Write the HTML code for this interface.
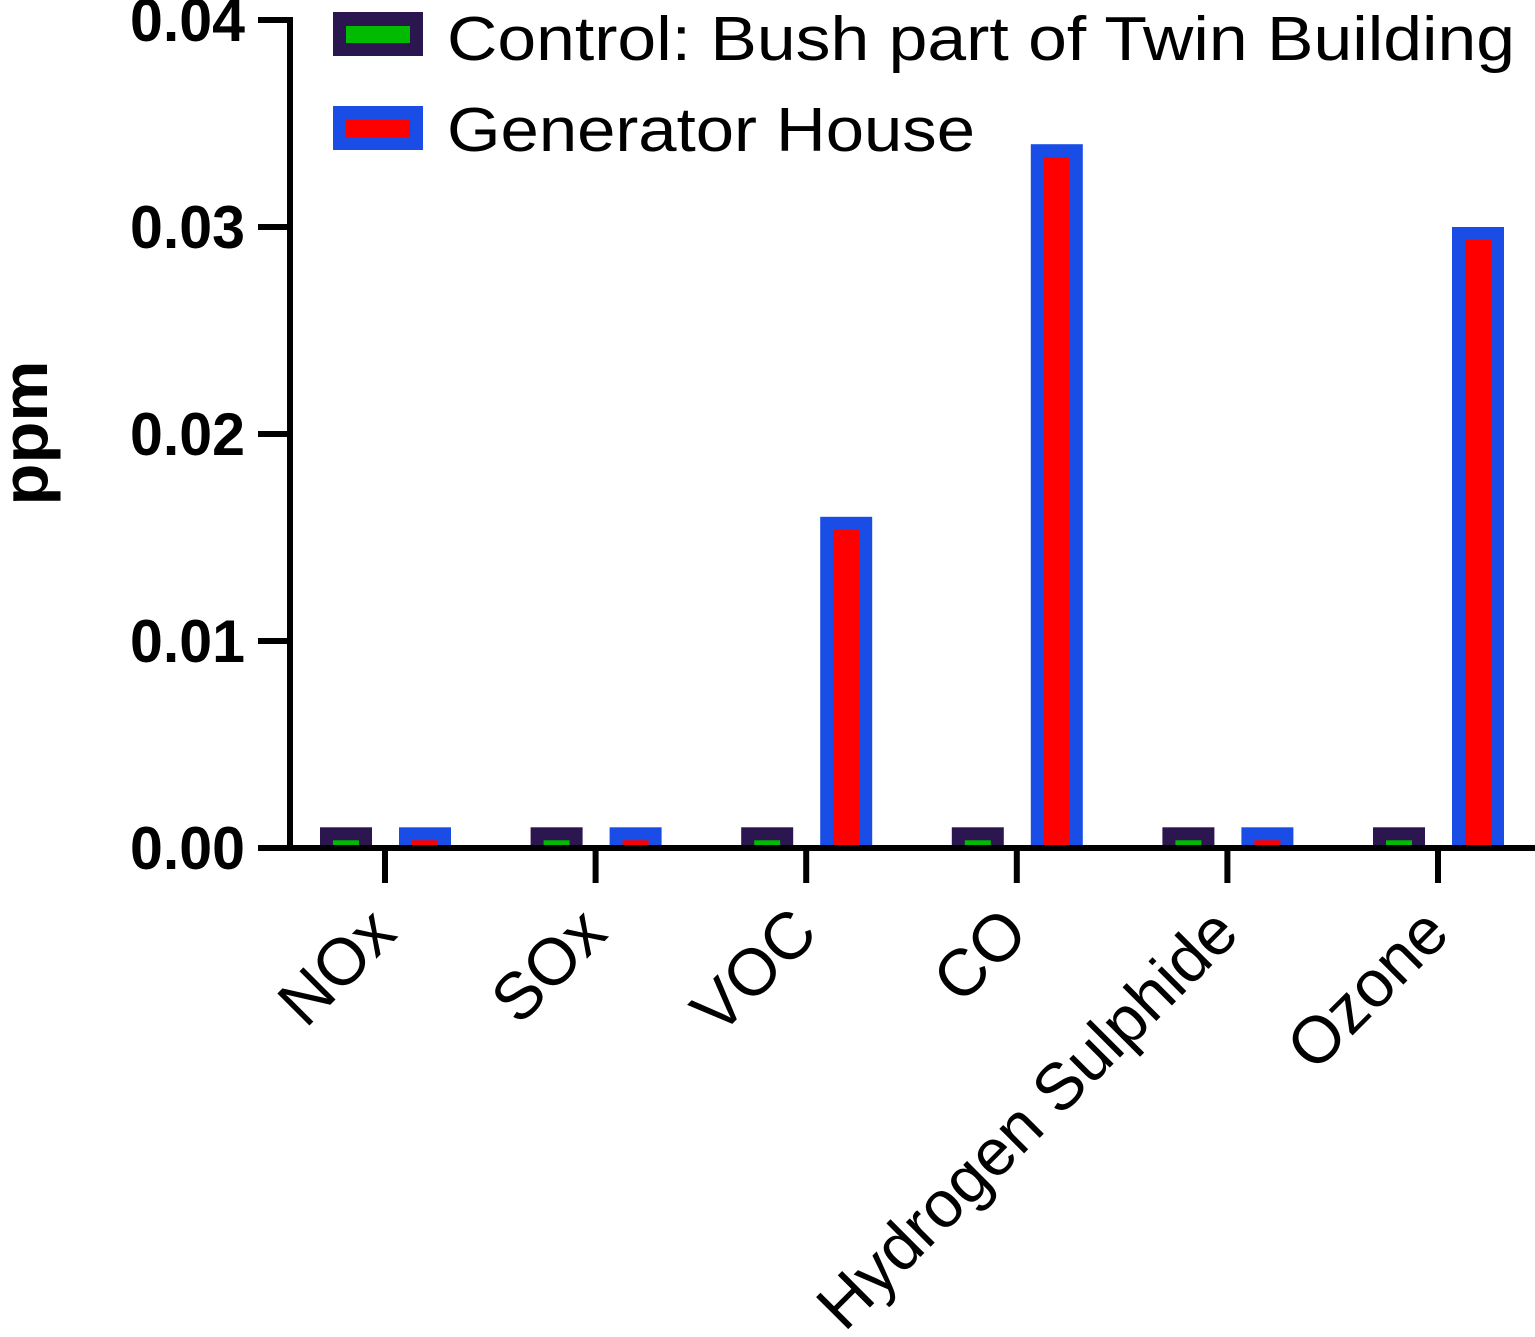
<!DOCTYPE html>
<html><head><meta charset="utf-8"><style>body{margin:0;background:#fff}svg{display:block}</style></head>
<body>
<svg id="chart" width="1535" height="1337" viewBox="0 0 1535 1337" xmlns="http://www.w3.org/2000/svg" font-family="Liberation Sans, sans-serif">
<g id="bars"></g>
<g id="axes"></g>
<g>
 <g>
  <rect x="333" y="12" width="90" height="44" fill="#2b1650"/><rect x="346" y="26" width="64" height="17" fill="#00bb00"/>
  <text x="447" y="60" font-size="62" textLength="1068" lengthAdjust="spacingAndGlyphs">Control: Bush part of Twin Building</text></g>
 <g>
  <rect x="333" y="106" width="90" height="44" fill="#1a4de6"/><rect x="346" y="120" width="64" height="17" fill="#ff0000"/>
  <text x="447" y="151" font-size="62" textLength="528" lengthAdjust="spacingAndGlyphs">Generator House</text></g>
</g>
<text transform="translate(47,433) rotate(-90)" text-anchor="middle" font-size="64" font-weight="bold" textLength="145" lengthAdjust="spacingAndGlyphs">ppm</text>
</svg>
<script>
const categories = ["NOx","SOx","VOC","CO","Hydrogen Sulphide","Ozone"];
const controlValues = [0.001,0.001,0.001,0.001,0.001,0.001];
const generatorValues = [0.001,0.001,0.016,0.034,0.001,0.030];
const yTicks = [0,0.01,0.02,0.03,0.04];
const yTickLabels = ["0.00","0.01","0.02","0.03","0.04"];
const NS="http://www.w3.org/2000/svg";
const y0=848, yTop=20, yMax=0.04;
function y(v){return y0-(y0-yTop)*v/yMax;}
function xc(i){return 385+i*210.6;}
function mk(tag,attrs,parent){const e=document.createElementNS(NS,tag);for(const k in attrs)e.setAttribute(k,attrs[k]);parent.appendChild(e);return e;}
const bars=document.getElementById('bars'), axes=document.getElementById('axes');
const series=[{vals:controlValues,off:-39,outer:"#2b1650",inner:"#00bb00",name:"control"},{vals:generatorValues,off:40,outer:"#1a4de6",inner:"#ff0000",name:"generator"}];
categories.forEach((c,i)=>{
  series.forEach(s=>{
    const v=s.vals[i], cx=xc(i)+s.off, w=52, top=y(v);
    const g=mk('g',{},bars);
    
    
    mk('rect',{x:cx-w/2,y:top,width:w,height:y0-top,fill:s.outer},g);
    const it=Math.min(top+13,y0-6);
    mk('rect',{x:cx-w/2+13,y:it,width:w-26,height:Math.max(y0-it,0),fill:s.inner},g);
  });
  const t=mk('line',{x1:xc(i),x2:xc(i),y1:848,y2:883,stroke:"#000","stroke-width":6},axes);
  
  
  const lx=xc(i)+14, ly=936;
  const tx=mk('text',{x:lx,y:ly,"text-anchor":"end","font-size":66,transform:`rotate(-45 ${lx} ${ly})`},axes);
  tx.textContent=c;
  
  
});
const ya=mk('line',{x1:290,x2:290,y1:17,y2:851,stroke:"#000","stroke-width":6},axes);


const xa=mk('line',{x1:287,x2:1535,y1:848,y2:848,stroke:"#000","stroke-width":6},axes);


yTicks.forEach((v,i)=>{
  const l=mk('line',{x1:258,x2:290,y1:y(v),y2:y(v),stroke:"#000","stroke-width":6},axes);
  
  
  const t=mk('text',{x:130,y:y(v)+21,"font-size":60,"font-weight":"bold",textLength:115,lengthAdjust:"spacingAndGlyphs"},axes);
  t.textContent=yTickLabels[i];
  
  
});
</script>
</body></html>
